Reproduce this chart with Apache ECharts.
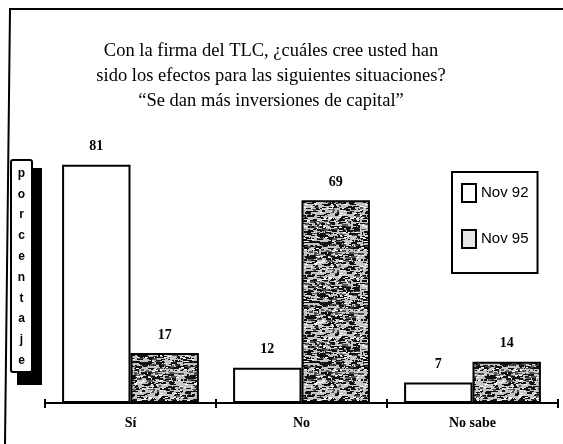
<!DOCTYPE html>
<html>
<head>
<meta charset="utf-8">
<script src="https://cdn.jsdelivr.net/npm/echarts@6/dist/echarts.min.js"></script>
<style>
  html, body { margin: 0; padding: 0; background: #fff; }
  #chart { width: 563px; height: 444px; }
</style>
</head>
<body>
<div id="chart"></div>
<script>
// Survey answers (percentages) for the two survey waves
const categories = ['Sí', 'No', 'No sabe'];
const nov92 = [81, 12, 7];
const nov95 = [17, 69, 14];
const seriesNames = ['Nov 92', 'Nov 95'];
const titleLines = [
  'Con la firma del TLC, ¿cuáles cree usted han',
  'sido los efectos para las siguientes situaciones?',
  '“Se dan más inversiones de capital”'
];
const axisTitle = 'porcentaje';

// Speckled grey texture for the second series (deterministic hash, no randomness)
function makeTexture() {
  const c = document.createElement('canvas');
  c.width = 60; c.height = 60;
  const ctx = c.getContext('2d');
  ctx.fillStyle = '#c4c4c4';
  ctx.fillRect(0, 0, 60, 60);
  let s = 12345;
  const next = () => { s = (s * 1103515245 + 12345) & 0x7fffffff; return s / 0x7fffffff; };
  for (let i = 0; i < 520; i++) {
    const x = Math.floor(next() * 60);
    const y = Math.floor(next() * 60);
    const w = 1 + Math.floor(next() * 6);
    const h = 1 + Math.floor(next() * 2);
    ctx.fillStyle = next() < 0.75 ? '#111' : '#555';
    ctx.fillRect(x, y, w, h);
  }
  for (let i = 0; i < 140; i++) {
    const x = Math.floor(next() * 60);
    const y = Math.floor(next() * 60);
    ctx.fillStyle = '#fff';
    ctx.fillRect(x, y, 1 + Math.floor(next() * 3), 1);
  }
  return c;
}
const texture = makeTexture();

const chart = echarts.init(document.getElementById('chart'), null, { renderer: 'canvas' });

const serif = '"Liberation Serif", "Times New Roman", serif';

chart.setOption({
  animation: false,
  backgroundColor: '#fff',
  title: {
    text: titleLines.join('\n'),
    left: 266,
    top: 34,
    textAlign: 'center',
    textStyle: {
      fontFamily: serif,
      fontWeight: 'normal',
      fontSize: 18.5,
      lineHeight: 25,
      color: '#000'
    }
  },
  legend: {
    orient: 'vertical',
    left: 452,
    top: 172,
    padding: [11, 9, 24, 9],
    borderColor: '#000',
    borderWidth: 2,
    itemWidth: 14,
    itemHeight: 18,
    itemGap: 26,
    icon: 'rect',
    textStyle: { fontFamily: '"Liberation Sans", Arial, sans-serif', fontSize: 15, color: '#000' },
    data: [
      { name: seriesNames[0], itemStyle: { color: '#fff', borderColor: '#000', borderWidth: 2 } },
      { name: seriesNames[1], itemStyle: { color: '#e6e6e6', borderColor: '#000', borderWidth: 2 } }
    ]
  },
  grid: { left: 45, right: 5, top: 109, bottom: 41 },
  xAxis: [
    {
      type: 'category',
      data: categories,
      axisLine: { show: true, lineStyle: { color: '#000', width: 2 } },
      axisTick: { show: true, length: 5, lineStyle: { color: '#000', width: 2 } },
      axisLabel: { fontFamily: serif, fontWeight: 'bold', fontSize: 14, color: '#000', margin: 13 }
    },
    {
      type: 'category',
      data: categories,
      position: 'bottom',
      axisLine: { show: false },
      axisTick: { show: true, inside: true, length: 4, lineStyle: { color: '#000', width: 2 } },
      axisLabel: { show: false }
    }
  ],
  yAxis: {
    type: 'value',
    min: 0,
    max: 100,
    show: false,
    splitLine: { show: false }
  },
  series: [
    {
      name: seriesNames[0],
      type: 'bar',
      data: nov92,
      barGap: '0%',
      barCategoryGap: '20%',
      itemStyle: { color: '#fff', borderColor: '#000', borderWidth: 2 },
      label: { show: true, position: 'top', distance: 11, fontFamily: serif, fontWeight: 'bold', fontSize: 14, color: '#000' }
    },
    {
      name: seriesNames[1],
      type: 'bar',
      data: nov95,
      barGap: '0%',
      barCategoryGap: '20%',
      itemStyle: { color: { image: texture, repeat: 'repeat' }, borderColor: '#000', borderWidth: 2 },
      label: { show: true, position: 'top', distance: 11, fontFamily: serif, fontWeight: 'bold', fontSize: 14, color: '#000' }
    }
  ],
  graphic: [
    {
      type: 'polyline',
      shape: { points: [[5, 444], [10, 9], [563, 9]] },
      style: { stroke: '#000', lineWidth: 2, fill: null },
      silent: true
    },
    {
      type: 'rect',
      shape: { x: 17, y: 168, width: 25, height: 217 },
      style: { fill: '#000' },
      silent: true
    },
    {
      type: 'rect',
      shape: { x: 11, y: 160, width: 21, height: 212, r: 2 },
      style: { fill: '#fff', stroke: '#000', lineWidth: 2 },
      silent: true
    },
    {
      type: 'text',
      x: 21.5,
      y: 163,
      style: {
        text: axisTitle.split('').join('\n'),
        textAlign: 'center',
        textVerticalAlign: 'top',
        fontFamily: '"Liberation Sans", Arial, sans-serif',
        fontWeight: 'bold',
        fontSize: 12,
        lineHeight: 20.8,
        fill: '#000'
      },
      silent: true
    }
  ]
});
</script>
</body>
</html>
